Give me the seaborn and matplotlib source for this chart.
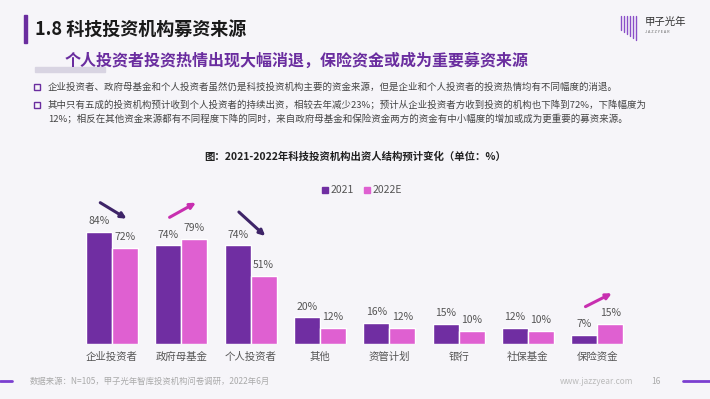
import pandas as pd
import seaborn as sns
import matplotlib.pyplot as plt
from matplotlib.patches import Rectangle

# chart data
categories = ["企业投资者", "政府母基金", "个人投资者", "其他", "资管计划", "银行", "社保基金", "保险资金"]
values_2021 = [84, 74, 74, 20, 16, 15, 12, 7]
values_2022 = [72, 79, 51, 12, 12, 10, 10, 15]
series = ["2021", "2022E"]
# trend arrows: (category index, start y, end y, colour key)
arrows = [(0, 106, 94, "down"), (1, 95, 106, "up"), (2, 99, 81, "down"), (7, 28, 38, "up")]

title = "1.8 科技投资机构募资来源"
subtitle = "个人投资者投资热情出现大幅消退，保险资金或成为重要募资来源"
bullets = [
    "企业投资者、政府母基金和个人投资者虽然仍是科技投资机构主要的资金来源，但是企业和个人投资者的投资热情均有不同幅度的消退。",
    "其中只有五成的投资机构预计收到个人投资者的持续出资，相较去年减少23%；预计从企业投资者方收到投资的机构也下降到72%，下降幅度为\n"
    "12%；相反在其他资金来源都有不同程度下降的同时，来自政府母基金和保险资金两方的资金有中小幅度的增加或成为更重要的募资来源。",
]
chart_title = "图：2021-2022年科技投资机构出资人结构预计变化（单位：%）"
source = "数据来源：N=105，甲子光年智库投资机构问卷调研，2022年6月"

df = pd.DataFrame({
    "category": categories * 2,
    "series": [series[0]] * len(categories) + [series[1]] * len(categories),
    "value": values_2021 + values_2022,
})

sns.set_theme(style="white")
plt.rcParams["font.family"] = ["Noto Sans CJK SC", "DejaVu Sans"]

purple = "#702ea2"
pink = "#df60d1"
arrow_colors = {"down": "#3e2468", "up": "#c82fb0"}

fig = plt.figure(figsize=(7.1, 3.99), dpi=100)
fig.patch.set_facecolor("#f6f5f9")

ax = fig.add_axes([0.109, 0.138, 0.781, 0.334])
ax.set_facecolor("none")
sns.barplot(data=df, x="category", y="value", hue="series", order=categories,
            palette=[purple, pink], width=0.75, saturation=1, ax=ax, legend=False)
ax.set_xlim(-0.5, 7.5)
ax.set_ylim(0, 100)
for c in ax.containers:
    ax.bar_label(c, labels=[f"{v:.0f}%" for v in c.datavalues], padding=4,
                 fontsize=7.5, color="#555555")
ax.set_xlabel("")
ax.set_ylabel("")
ax.set_yticks([])
ax.tick_params(axis="x", length=0, labelsize=7.5, labelcolor="#555555", pad=6)
for s in ax.spines.values():
    s.set_visible(False)

for i, y0, y1, kind in arrows:
    ax.annotate("", xy=(i + 0.21, y1), xytext=(i - 0.17, y0), annotation_clip=False,
                arrowprops=dict(arrowstyle="-|>", color=arrow_colors[kind], lw=2.2,
                                mutation_scale=8, shrinkA=0, shrinkB=0))

# legend
for j, (name, col) in enumerate(zip(series, [purple, pink])):
    x0 = 322 + j * 42
    fig.patches.append(Rectangle((x0 / 710, 1 - 193 / 399), 6 / 710, 6 / 399,
                                 transform=fig.transFigure, color=col))
    fig.text((x0 + 9) / 710, 1 - 190 / 399, name, fontsize=7.5, color="#555555", va="center")

fig.text(0.5, 1 - 157 / 399, chart_title, ha="center", va="center", fontsize=7.5,
         fontweight="bold", color="#222222")

# header
fig.patches.append(Rectangle((24 / 710, 1 - 43 / 399), 3 / 710, 28 / 399,
                             transform=fig.transFigure, color="#6a2d9f"))
fig.text(35 / 710, 1 - 29 / 399, title, fontsize=13, fontweight="bold", color="#1a1a1a", va="center")
fig.patches.append(Rectangle((35 / 710, 1 - 72 / 399), 70 / 710, 5 / 399,
                             transform=fig.transFigure, color="#d8d4e2"))
fig.text(65 / 710, 1 - 61 / 399, subtitle, fontsize=11.5, fontweight="bold", color="#6a2d9f", va="center")

for k, (txt, y) in enumerate(zip(bullets, [87, 105])):
    fig.patches.append(Rectangle((34 / 710, 1 - (y + 3) / 399), 6 / 710, 6 / 399, transform=fig.transFigure,
                                 fill=False, edgecolor="#6a2d9f", lw=1))
    fig.text(48 / 710, 1 - (y - 5) / 399, txt, fontsize=6.8, color="#444444", va="top", linespacing=1.55)

# logo
for n in range(6):
    fig.lines.append(plt.Line2D([(621 + n * 3) / 710] * 2, [1 - 16 / 399, 1 - (30 + n * 2) / 399],
                                transform=fig.transFigure, color="#8a4fc8", lw=1))
fig.text(645 / 710, 1 - 22 / 399, "甲子光年", fontsize=7.5, color="#333333", va="center")
fig.text(645 / 710, 1 - 32 / 399, "J A Z Z Y E A R", fontsize=2.8, color="#666666", va="center")

# footer
fig.text(30 / 710, 1 - 381 / 399, source, fontsize=6, color="#aaaaaa", va="center")
fig.text(560 / 710, 1 - 381 / 399, "www.jazzyear.com", fontsize=6, color="#bbbbbb", va="center")
fig.text(651 / 710, 1 - 381 / 399, "16", fontsize=6, color="#aaaaaa", va="center")
fig.lines.append(plt.Line2D([0, 12 / 710], [1 - 381 / 399] * 2, transform=fig.transFigure, color="#7b3fd0", lw=2))
fig.lines.append(plt.Line2D([683 / 710, 1], [1 - 381 / 399] * 2, transform=fig.transFigure, color="#7b3fd0", lw=2))

fig.savefig("out.png", dpi=100)
